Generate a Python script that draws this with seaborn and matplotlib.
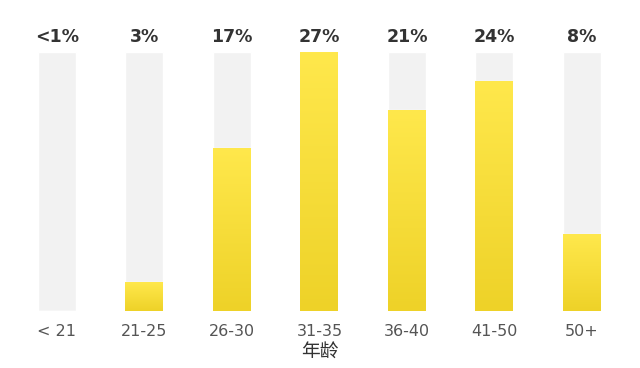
import numpy as np
import pandas as pd
import seaborn as sns
import matplotlib.pyplot as plt
from matplotlib.colors import LinearSegmentedColormap

# age groups and share of respondents (%)
age_groups = ['< 21', '21-25', '26-30', '31-35', '36-40', '41-50', '50+']
shares = [0, 3, 17, 27, 21, 24, 8]
share_labels = ['<1%', '3%', '17%', '27%', '21%', '24%', '8%']
full_scale = 27

df = pd.DataFrame({'age': age_groups, 'share': shares})

sns.set_theme(style='white')
plt.rcParams['font.family'] = ['DejaVu Sans', 'Noto Sans CJK SC']

fig = plt.figure(figsize=(6.4, 3.68), dpi=100)
ax = fig.add_axes([0, 57 / 368, 1, 259 / 368])

# light gray background track for every bar
sns.barplot(data=df.assign(share=full_scale), x='age', y='share', color='#f2f2f2',
            width=0.434, saturation=1, ax=ax)
n_bg = len(ax.patches)
sns.barplot(data=df, x='age', y='share', color='#fbe13a',
            width=0.434, saturation=1, ax=ax)

# vertical yellow gradient clipped to each bar
cmap = LinearSegmentedColormap.from_list('yel', ['#eed228', '#ffe84c'])
grad = np.linspace(0, 1, 256).reshape(-1, 1)
for p in ax.patches[n_bg:]:
    h = p.get_height()
    if h <= 0:
        continue
    x0 = p.get_x()
    im = ax.imshow(grad, cmap=cmap, aspect='auto', origin='lower',
                   extent=[x0, x0 + p.get_width(), 0, h], zorder=3)
    im.set_clip_path(p)

for i, lab in enumerate(share_labels):
    ax.text(i, full_scale + 0.6, lab, ha='center', va='bottom',
            fontsize=12.5, fontweight='heavy', color='#333333')

ax.set_xlim(-0.651, 6.663)
ax.set_ylim(0, full_scale)
ax.set_yticks([])
ax.set_ylabel('')
ax.set_xlabel('年龄', fontsize=13.5, color='#333333', labelpad=2,
              family=['Noto Sans CJK SC', 'DejaVu Sans'])
ax.tick_params(axis='x', length=0, labelsize=11.5, labelcolor='#555555', pad=9)
for s in ax.spines.values():
    s.set_visible(False)

fig.savefig('out.png', dpi=100)
